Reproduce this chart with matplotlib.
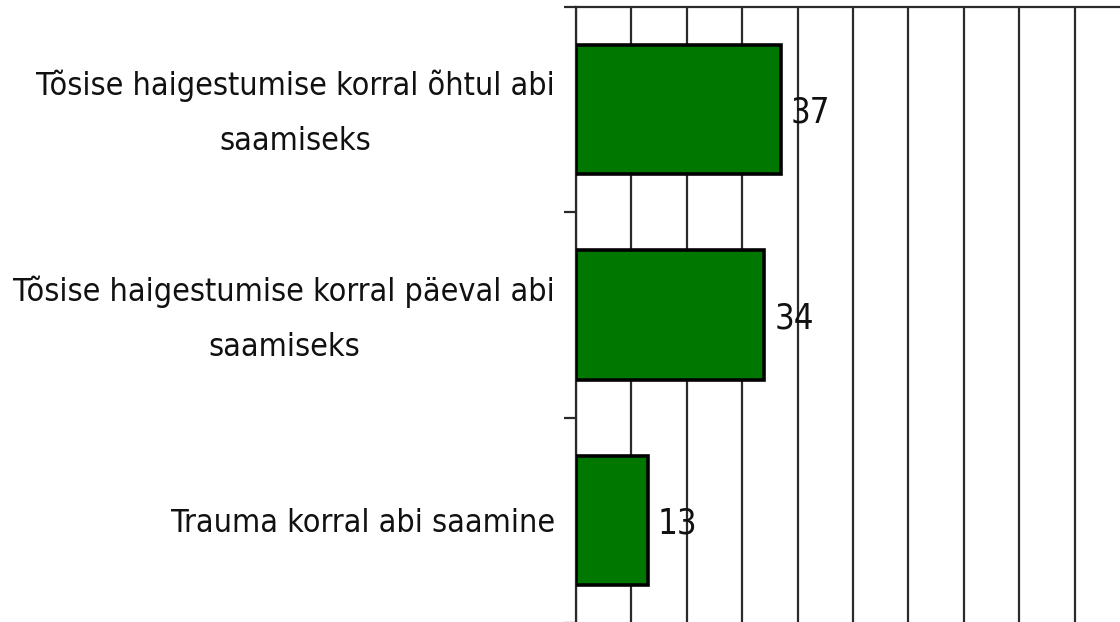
import matplotlib
matplotlib.use("Agg")
import matplotlib.pyplot as plt
from matplotlib import font_manager
from matplotlib.font_manager import FontProperties

categories = [
    "Tõsise haigestumise korral õhtul abi\nsaamiseks",
    "Tõsise haigestumise korral päeval abi\nsaamiseks",
    "Trauma korral abi saamine",
]
values = [37, 34, 13]
x_ticks = [0, 10, 20, 30, 40, 50, 60, 70, 80, 90, 100]

# pick the narrowest installed face available
cands = []
for f in font_manager.fontManager.ttflist:
    st = str(f.stretch).lower()
    nm = f.name
    if f.style != "normal" or f.weight not in (400, "normal", "regular"):
        continue
    if "narrow" in nm.lower() or "condensed" in nm.lower() or st in (
            "condensed", "semi-condensed", "extra-condensed", "ultra-condensed") or st in ("75", "87.5", "62.5"):
        cands.append(f)

if cands:
    f0 = cands[0]
    fp = FontProperties(fname=f0.fname)
else:
    fp = FontProperties(family="Roboto")

W, H = 1120, 622
fig = plt.figure(figsize=(W / 100, H / 100), dpi=100)
renderer = fig.canvas.get_renderer()

# size text so the longest label line spans ~539 px as in the chart
probe = fig.text(0, 0, "Tõsise haigestumise korral päeval abi", fontproperties=fp, fontsize=27)
wpx = probe.get_window_extent(renderer).width
probe.remove()
fs = min(29.0, 27 * 539 / wpx)
fp.set_size(fs)
fp_val = fp.copy()
fp_val.set_size(fs * 1.08)

ax = fig.add_axes([576 / W, -1 / H, 554 / W, (623 - 8) / H + 1 / H])

ypos = list(range(len(categories)))
ax.barh(ypos, values, height=0.63, color="#007800", edgecolor="black",
        linewidth=2.6, zorder=3)

for y, v in zip(ypos, values):
    ax.annotate(str(v), xy=(v, y), xytext=(10, -3), textcoords="offset pixels",
                ha="left", va="center", fontproperties=fp_val,
                color="#111111", zorder=4)

ax.set_xlim(0, 100)
ax.set_ylim(2.5, -0.5)
ax.set_xticks(x_ticks)
ax.set_xticklabels([])
ax.tick_params(axis="x", length=0)
ax.grid(axis="x", color="#2a2a2a", linewidth=1.6, zorder=1)

# category labels
ax.set_yticks(ypos)
ax.set_yticklabels([])
ax.tick_params(axis="y", which="major", length=0)
for y, lab in zip(ypos, categories):
    dy = -4 if "\n" in lab else -3
    ax.annotate(lab, xy=(0, y), xycoords=("axes fraction", "data"),
                xytext=(-21, dy), textcoords="offset pixels",
                ha="right", va="center", multialignment="center",
                fontproperties=fp, color="#111111", linespacing=2.0,
                annotation_clip=False)

ax.set_yticks([-0.5, 0.5, 1.5, 2.5], minor=True)
ax.tick_params(axis="y", which="minor", length=9, width=1.6, color="#2a2a2a")

for s in ["right", "bottom"]:
    ax.spines[s].set_visible(False)
for s in ["left", "top"]:
    ax.spines[s].set_color("#2a2a2a")
    ax.spines[s].set_linewidth(1.6)

fig.savefig("out.png", dpi=100)
